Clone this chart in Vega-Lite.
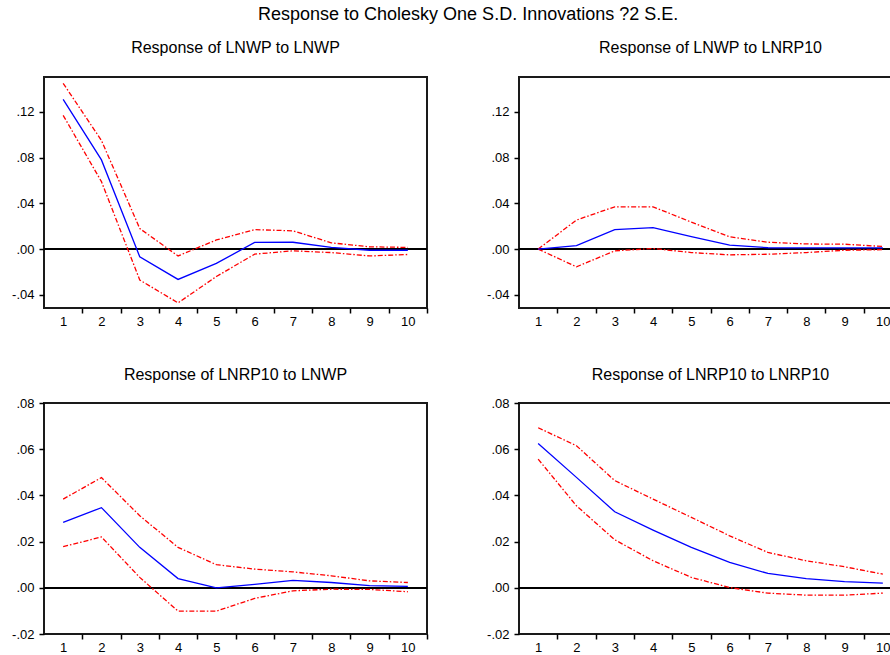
{
  "$schema": "https://vega.github.io/schema/vega-lite/v6.json",
  "padding": {"left": 10, "top": 6, "right": 0, "bottom": 0},
  "background": "white",
  "title": {"text": "Response to Cholesky One S.D. Innovations ?2 S.E.", "anchor": "start", "frame": "group", "dx": 214, "offset": 15, "fontSize": 18, "fontWeight": "normal", "font": "Liberation Sans", "color": "#000"},
  "datasets": {
    "irf": [
      {"p": "A", "step": 1, "r": 0.131, "u": 0.145, "l": 0.117},
      {"p": "A", "step": 2, "r": 0.078, "u": 0.095, "l": 0.059},
      {"p": "A", "step": 3, "r": -0.0067, "u": 0.018, "l": -0.027},
      {"p": "A", "step": 4, "r": -0.0265, "u": -0.006, "l": -0.047},
      {"p": "A", "step": 5, "r": -0.0125, "u": 0.008, "l": -0.024},
      {"p": "A", "step": 6, "r": 0.0058, "u": 0.017, "l": -0.0044},
      {"p": "A", "step": 7, "r": 0.006, "u": 0.016, "l": -0.0015},
      {"p": "A", "step": 8, "r": 0.0015, "u": 0.0055, "l": -0.003},
      {"p": "A", "step": 9, "r": -0.001, "u": 0.002, "l": -0.006},
      {"p": "A", "step": 10, "r": -0.001, "u": 0.0015, "l": -0.0047},
      {"p": "B", "step": 1, "r": 0.0, "u": 0.0, "l": 0.0},
      {"p": "B", "step": 2, "r": 0.003, "u": 0.0254, "l": -0.0155},
      {"p": "B", "step": 3, "r": 0.017, "u": 0.037, "l": -0.0015},
      {"p": "B", "step": 4, "r": 0.0187, "u": 0.037, "l": 0.0005},
      {"p": "B", "step": 5, "r": 0.011, "u": 0.0236, "l": -0.003},
      {"p": "B", "step": 6, "r": 0.0035, "u": 0.0108, "l": -0.005},
      {"p": "B", "step": 7, "r": 0.0012, "u": 0.006, "l": -0.0045},
      {"p": "B", "step": 8, "r": 0.001, "u": 0.0045, "l": -0.003},
      {"p": "B", "step": 9, "r": 0.001, "u": 0.0043, "l": -0.001},
      {"p": "B", "step": 10, "r": 0.001, "u": 0.0023, "l": -0.0005},
      {"p": "C", "step": 1, "r": 0.0283, "u": 0.0384, "l": 0.0178},
      {"p": "C", "step": 2, "r": 0.0347, "u": 0.0477, "l": 0.022},
      {"p": "C", "step": 3, "r": 0.0175, "u": 0.0312, "l": 0.0045},
      {"p": "C", "step": 4, "r": 0.004, "u": 0.0175, "l": -0.0101},
      {"p": "C", "step": 5, "r": 0.0, "u": 0.01, "l": -0.0101},
      {"p": "C", "step": 6, "r": 0.0015, "u": 0.0081, "l": -0.0046},
      {"p": "C", "step": 7, "r": 0.0032, "u": 0.0069, "l": -0.0013},
      {"p": "C", "step": 8, "r": 0.0023, "u": 0.0052, "l": -0.0006},
      {"p": "C", "step": 9, "r": 0.0009, "u": 0.003, "l": -0.0007},
      {"p": "C", "step": 10, "r": 0.0006, "u": 0.0023, "l": -0.0017},
      {"p": "D", "step": 1, "r": 0.0625, "u": 0.0693, "l": 0.0557},
      {"p": "D", "step": 2, "r": 0.0478, "u": 0.0615, "l": 0.0355},
      {"p": "D", "step": 3, "r": 0.0329, "u": 0.0464, "l": 0.0208},
      {"p": "D", "step": 4, "r": 0.025, "u": 0.0384, "l": 0.0117},
      {"p": "D", "step": 5, "r": 0.0175, "u": 0.0305, "l": 0.0045},
      {"p": "D", "step": 6, "r": 0.011, "u": 0.0225, "l": 0.0001},
      {"p": "D", "step": 7, "r": 0.0062, "u": 0.0153, "l": -0.0023},
      {"p": "D", "step": 8, "r": 0.004, "u": 0.0117, "l": -0.0032},
      {"p": "D", "step": 9, "r": 0.0027, "u": 0.0091, "l": -0.0032},
      {"p": "D", "step": 10, "r": 0.002, "u": 0.0059, "l": -0.0023}
    ]
  },
  "columns": 2,
  "spacing": {"row": 37, "column": 56},
  "concat": [
    {
      "width": 383, "height": 231,
      "title": {"text": "Response of LNWP to LNWP", "offset": 21},
      "data": {"name": "irf"},
      "transform": [{"filter": "datum.p == 'A'"}],
      "encoding": {
        "x": {"field": "step", "type": "quantitative", "scale": {"domain": [0.5, 10.5], "nice": false, "zero": false},
              "axis": {"values": [1,2,3,4,5,6,7,8,9,10], "tickOffset": 19.15, "labelOffset": -19.15}}
      },
      "layer": [
        {"mark": {"type": "rule", "color": "#000", "strokeWidth": 1.5}, "encoding": {"y": {"datum": 0, "type": "quantitative", "scale": {"domain": [-0.0515, 0.1505], "nice": false, "zero": false},
              "axis": {"values": [-0.04, 0, 0.04, 0.08, 0.12]}}, "x": null}},
        {"mark": {"type": "line", "color": "#ff0000", "strokeWidth": 1.3, "strokeDash": [5, 2, 1.5, 2]}, "encoding": {"y": {"field": "u", "type": "quantitative"}}},
        {"mark": {"type": "line", "color": "#ff0000", "strokeWidth": 1.3, "strokeDash": [5, 2, 1.5, 2]}, "encoding": {"y": {"field": "l", "type": "quantitative"}}},
        {"mark": {"type": "line", "color": "#0000ff", "strokeWidth": 1.3}, "encoding": {"y": {"field": "r", "type": "quantitative"}}}
      ]
    },
    {
      "width": 383, "height": 231,
      "title": {"text": "Response of LNWP to LNRP10", "offset": 21},
      "data": {"name": "irf"},
      "transform": [{"filter": "datum.p == 'B'"}],
      "encoding": {
        "x": {"field": "step", "type": "quantitative", "scale": {"domain": [0.5, 10.5], "nice": false, "zero": false},
              "axis": {"values": [1,2,3,4,5,6,7,8,9,10], "tickOffset": 19.15, "labelOffset": -19.15}}
      },
      "layer": [
        {"mark": {"type": "rule", "color": "#000", "strokeWidth": 1.5}, "encoding": {"y": {"datum": 0, "type": "quantitative", "scale": {"domain": [-0.0515, 0.1505], "nice": false, "zero": false},
              "axis": {"values": [-0.04, 0, 0.04, 0.08, 0.12]}}, "x": null}},
        {"mark": {"type": "line", "color": "#ff0000", "strokeWidth": 1.3, "strokeDash": [5, 2, 1.5, 2]}, "encoding": {"y": {"field": "u", "type": "quantitative"}}},
        {"mark": {"type": "line", "color": "#ff0000", "strokeWidth": 1.3, "strokeDash": [5, 2, 1.5, 2]}, "encoding": {"y": {"field": "l", "type": "quantitative"}}},
        {"mark": {"type": "line", "color": "#0000ff", "strokeWidth": 1.3}, "encoding": {"y": {"field": "r", "type": "quantitative"}}}
      ]
    },
    {
      "width": 383, "height": 231,
      "title": {"text": "Response of LNRP10 to LNWP", "offset": 14},
      "data": {"name": "irf"},
      "transform": [{"filter": "datum.p == 'C'"}],
      "encoding": {
        "x": {"field": "step", "type": "quantitative", "scale": {"domain": [0.5, 10.5], "nice": false, "zero": false},
              "axis": {"values": [1,2,3,4,5,6,7,8,9,10], "tickOffset": 19.15, "labelOffset": -19.15}}
      },
      "layer": [
        {"mark": {"type": "rule", "color": "#000", "strokeWidth": 1.5}, "encoding": {"y": {"datum": 0, "type": "quantitative", "scale": {"domain": [-0.02, 0.08], "nice": false, "zero": false},
              "axis": {"values": [-0.02, 0, 0.02, 0.04, 0.06, 0.08]}}, "x": null}},
        {"mark": {"type": "line", "color": "#ff0000", "strokeWidth": 1.3, "strokeDash": [5, 2, 1.5, 2]}, "encoding": {"y": {"field": "u", "type": "quantitative"}}},
        {"mark": {"type": "line", "color": "#ff0000", "strokeWidth": 1.3, "strokeDash": [5, 2, 1.5, 2]}, "encoding": {"y": {"field": "l", "type": "quantitative"}}},
        {"mark": {"type": "line", "color": "#0000ff", "strokeWidth": 1.3}, "encoding": {"y": {"field": "r", "type": "quantitative"}}}
      ]
    },
    {
      "width": 383, "height": 231,
      "title": {"text": "Response of LNRP10 to LNRP10", "offset": 14},
      "data": {"name": "irf"},
      "transform": [{"filter": "datum.p == 'D'"}],
      "encoding": {
        "x": {"field": "step", "type": "quantitative", "scale": {"domain": [0.5, 10.5], "nice": false, "zero": false},
              "axis": {"values": [1,2,3,4,5,6,7,8,9,10], "tickOffset": 19.15, "labelOffset": -19.15}}
      },
      "layer": [
        {"mark": {"type": "rule", "color": "#000", "strokeWidth": 1.5}, "encoding": {"y": {"datum": 0, "type": "quantitative", "scale": {"domain": [-0.02, 0.08], "nice": false, "zero": false},
              "axis": {"values": [-0.02, 0, 0.02, 0.04, 0.06, 0.08]}}, "x": null}},
        {"mark": {"type": "line", "color": "#ff0000", "strokeWidth": 1.3, "strokeDash": [5, 2, 1.5, 2]}, "encoding": {"y": {"field": "u", "type": "quantitative"}}},
        {"mark": {"type": "line", "color": "#ff0000", "strokeWidth": 1.3, "strokeDash": [5, 2, 1.5, 2]}, "encoding": {"y": {"field": "l", "type": "quantitative"}}},
        {"mark": {"type": "line", "color": "#0000ff", "strokeWidth": 1.3}, "encoding": {"y": {"field": "r", "type": "quantitative"}}}
      ]
    }
  ],
  "config": {
    "font": "Liberation Sans",
    "view": {"stroke": "#1a1a1a", "strokeWidth": 2},
    "title": {"font": "Liberation Sans", "fontSize": 16, "fontWeight": "normal", "color": "#000", "offset": 20, "anchor": "middle", "frame": "group"},
    "axis": {"grid": false, "domain": false, "title": null, "tickSize": 5, "tickWidth": 1.5, "tickColor": "#000", "labelColor": "#000", "labelFont": "Liberation Sans", "labelFontSize": 13},
    "axisX": {"labelPadding": 2},
    "axisY": {"labelPadding": 5, "labelExpr": "replace(replace(format(datum.value, '.2f'), '0.', '.'), '\u2212', '-')"}
  }
}
